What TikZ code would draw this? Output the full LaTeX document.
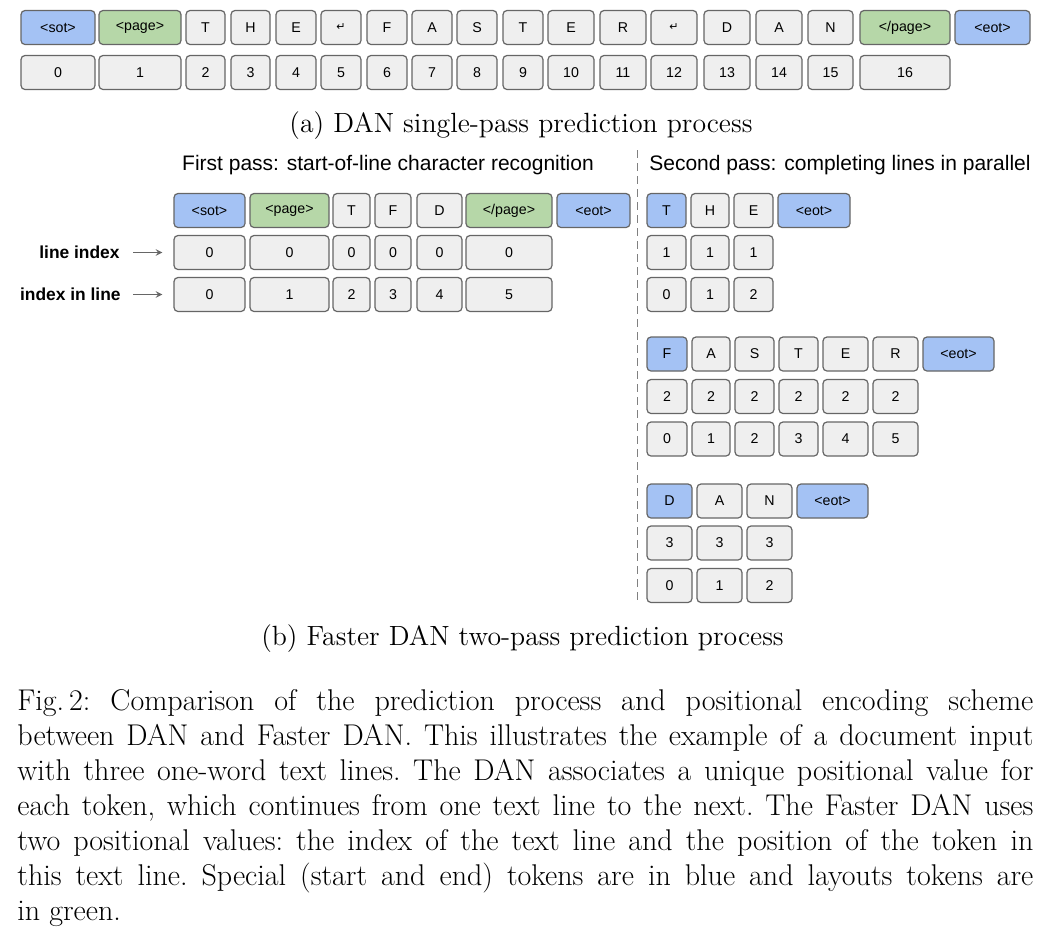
\documentclass[tikz,border=0pt]{standalone}
\usepackage{fontspec}
\setsansfont{Liberation Sans}
\newfontfamily\arrowfont{DejaVu Sans}

\definecolor{cellgray}{HTML}{EFEFEF}
\definecolor{cellblue}{HTML}{A4C2F4}
\definecolor{cellgreen}{HTML}{B6D7A8}
\definecolor{celledge}{HTML}{666666}

\newcommand{\retsym}{{\arrowfont\fontsize{5.5}{6}\selectfont ↵}}

\begin{document}
\begin{tikzpicture}[x=0.5pt, y=-0.5pt, >=stealth,
    cell/.style={draw=celledge, fill=cellgray, line width=0.6pt, rounded corners=2pt,
        minimum height=17pt, inner sep=0pt, font=\sffamily\fontsize{7.1}{8}\selectfont},
    rowlabel/.style={anchor=east, inner sep=0pt, font=\sffamily\bfseries\fontsize{8.7}{10}\selectfont},
    passtitle/.style={anchor=base, font=\sffamily\fontsize{10.5}{12}\selectfont},
    caption/.style={anchor=base, inner sep=0pt, font=\fontsize{13.9}{17.5}\selectfont}]
    \useasboundingbox (0,0) rectangle (1051,938);

    % (a) single pass
    \foreach \txt/\lo/\hi/\col [count=\i] in {{<sot>}/21/95/cellblue, {<page>}/99/181/cellgreen,
        T/186/225/cellgray, H/231/270/cellgray, E/276/316/cellgray, \retsym/321/361/cellgray,
        F/367/407/cellgray, A/412/452/cellgray, S/457/497/cellgray, T/503/543/cellgray,
        E/548/594/cellgray, R/600/646/cellgray, \retsym/651/697/cellgray, D/704/750/cellgray,
        A/756/802/cellgray, N/808/853/cellgray, {</page>}/860/950/cellgreen, {<eot>}/955/1030/cellblue}
        \node[cell, fill=\col, minimum width={(\hi-\lo)*0.5pt}] (a-tok-\i) at ({(\lo+\hi)/2},27.5) {\txt};
    \foreach \txt/\lo/\hi [count=\i] in {0/21/95, 1/99/181, 2/186/225, 3/231/270, 4/276/316,
        5/321/361, 6/367/407, 7/412/452, 8/457/497, 9/503/543, 10/548/594, 11/600/646,
        12/651/697, 13/704/750, 14/756/802, 15/808/853, 16/860/950}
        \node[cell, minimum width={(\hi-\lo)*0.5pt}] (a-pos-\i) at ({(\lo+\hi)/2},72.5) {\txt};

    \node[caption] (capa) at (521,132) {(a) DAN single-pass prediction process};

    % (b) first pass
    \node[passtitle] (firstpass) at (388,170) {First pass: start-of-line character recognition};
    \foreach \txt/\lo/\hi/\col [count=\i] in {{<sot>}/174/245/cellblue, {<page>}/250/329/cellgreen,
        T/333/370/cellgray, F/375/411/cellgray, D/417/462/cellgray,
        {</page>}/466/552/cellgreen, {<eot>}/557/630/cellblue}
        \node[cell, fill=\col, minimum width={(\hi-\lo)*0.5pt}] (b-tok-\i) at ({(\lo+\hi)/2},210.5) {\txt};
    \foreach \idx/\lo/\hi [count=\i] in {0/174/245, 1/250/329, 2/333/370, 3/375/411, 4/417/462, 5/466/552} {
        \node[cell, minimum width={(\hi-\lo)*0.5pt}] (b-line-\i) at ({(\lo+\hi)/2},252.5) {0};
        \node[cell, minimum width={(\hi-\lo)*0.5pt}] (b-pos-\i) at ({(\lo+\hi)/2},294.5) {\idx};
    }

    \node[rowlabel] (lineidx) at (120,252.5) {line index};
    \node[rowlabel] (idxinline) at (121,294.5) {index in line};
    \draw[->, celledge, line width=0.5pt, shorten <=6.5pt, shorten >=5.5pt] (lineidx.east) -- (b-line-1.west);
    \draw[->, celledge, line width=0.5pt, shorten <=6pt, shorten >=5.5pt] (idxinline.east) -- (b-pos-1.west);

    \draw[gray, line width=0.5pt, dash pattern=on 4pt off 2.5pt] (637,150) -- (637,604);

    % (b) second pass
    \node[passtitle] (secondpass) at (840,170) {Second pass: completing lines in parallel};

    \foreach \txt/\lo/\hi/\col [count=\i] in {T/647/686/cellblue, H/691/729/cellgray,
        E/734/773/cellgray, {<eot>}/778/850/cellblue}
        \node[cell, fill=\col, minimum width={(\hi-\lo)*0.5pt}] (c1-tok-\i) at ({(\lo+\hi)/2},210.5) {\txt};
    \foreach \idx/\lo/\hi [count=\i] in {0/647/686, 1/691/729, 2/734/773} {
        \node[cell, minimum width={(\hi-\lo)*0.5pt}] (c1-line-\i) at ({(\lo+\hi)/2},252.5) {1};
        \node[cell, minimum width={(\hi-\lo)*0.5pt}] (c1-pos-\i) at ({(\lo+\hi)/2},294.5) {\idx};
    }

    \foreach \txt/\lo/\hi/\col [count=\i] in {F/647/687/cellblue, A/692/730/cellgray,
        S/735/774/cellgray, T/779/818/cellgray, E/823/868/cellgray, R/873/918/cellgray,
        {<eot>}/923/994/cellblue}
        \node[cell, fill=\col, minimum width={(\hi-\lo)*0.5pt}] (c2-tok-\i) at ({(\lo+\hi)/2},354) {\txt};
    \foreach \idx/\lo/\hi [count=\i] in {0/647/687, 1/692/730, 2/735/774, 3/779/818, 4/823/868, 5/873/918} {
        \node[cell, minimum width={(\hi-\lo)*0.5pt}] (c2-line-\i) at ({(\lo+\hi)/2},396.5) {2};
        \node[cell, minimum width={(\hi-\lo)*0.5pt}] (c2-pos-\i) at ({(\lo+\hi)/2},439) {\idx};
    }

    \foreach \txt/\lo/\hi/\col [count=\i] in {D/647/692/cellblue, A/697/742/cellgray,
        N/747/792/cellgray, {<eot>}/797/868/cellblue}
        \node[cell, fill=\col, minimum width={(\hi-\lo)*0.5pt}] (c3-tok-\i) at ({(\lo+\hi)/2},501) {\txt};
    \foreach \idx/\lo/\hi [count=\i] in {0/647/692, 1/697/742, 2/747/792} {
        \node[cell, minimum width={(\hi-\lo)*0.5pt}] (c3-line-\i) at ({(\lo+\hi)/2},543) {3};
        \node[cell, minimum width={(\hi-\lo)*0.5pt}] (c3-pos-\i) at ({(\lo+\hi)/2},585.5) {\idx};
    }

    \node[caption] (capb) at (522.5,645) {(b) Faster DAN two-pass prediction process};

    \node[caption, anchor=base west, text width=508pt, align=justify,
        font=\fontsize{15}{17.5}\selectfont\frenchspacing] (figcap) at (17,710)
        {Fig.\,2: Comparison of the prediction process and positional encoding scheme\linebreak
        between DAN and Faster DAN. This illustrates the example of a document input\linebreak
        with three one-word text lines. The DAN associates a unique positional value for\linebreak
        each token, which continues from one text line to the next. The Faster DAN uses\linebreak
        two positional values: the index of the text line and the position of the token in\linebreak
        this text line. Special (start and end) tokens are in blue and layouts tokens are\linebreak
        in green.};
\end{tikzpicture}
\end{document}
